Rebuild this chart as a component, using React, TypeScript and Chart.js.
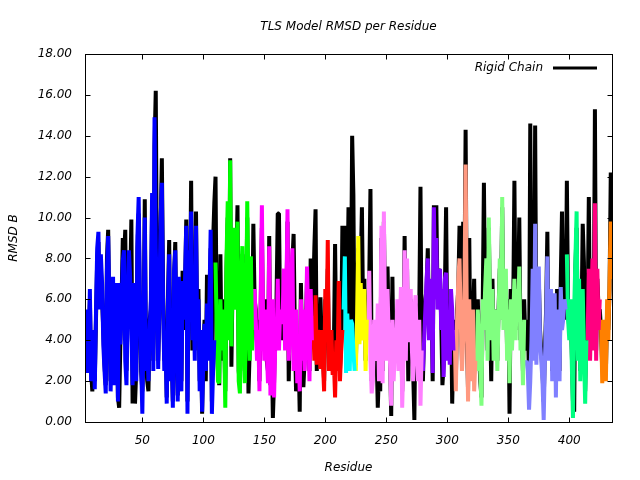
import React, { useEffect, useRef } from "react";
import { Chart, registerables } from "chart.js";

Chart.register(...registerables);

const FIRST_RESIDUE = 3;

// TLS group model RMSD (coloured by TLS group), residues 3..435
const tlsValues: number[] = [
  4.2, 5.5, 2.4, 3.5, 6.5, 2.0, 3.4,
  4.5, 1.6, 5.3, 8.5, 9.3, 5.5, 8.2, 6.8, 3.8, 2.5,
  1.4, 7.5, 9.1, 5.5, 1.5, 4.0, 7.1, 1.8, 4.5, 6.8,
  1.0, 6.8, 3.8, 5.5, 7.9, 8.4, 3.0, 1.8, 5.9, 8.4,
  7.1, 4.5, 1.8, 6.8, 4.0, 2.0, 9.1, 11.0, 6.0, 3.0,
  0.4, 4.5, 10.0, 2.5, 4.0, 2.0, 4.5, 6.0, 11.2, 2.5,
  14.9, 8.5, 6.0, 2.6, 6.1, 10.0, 11.7, 5.9, 2.5, 4.0,
  0.9, 5.8, 8.2, 2.0, 4.0, 0.7, 7.4, 8.4, 4.0, 1.0,
  7.1, 3.0, 1.5, 6.9, 5.0, 7.0, 9.6, 0.4, 8.4, 5.0,
  10.3, 4.0, 6.2, 3.0, 9.6, 4.5, 6.0, 1.5, 4.5, 0.5,
  3.0, 4.8, 2.5, 5.8, 3.0, 6.0, 9.4, 0.4, 2.5, 4.0,
  7.8, 4.5, 2.0, 1.9, 6.0, 3.5, 5.5, 4.3, 0.7, 8.0,
  10.8, 4.0, 12.8, 3.7, 7.6, 9.5, 5.5, 7.0, 9.8, 2.0,
  1.4, 7.0, 8.6, 4.0, 1.9, 5.0, 10.8, 6.0, 3.0, 8.1,
  3.5, 4.5, 6.5, 5.0, 3.0, 4.5, 1.5, 6.0, 10.6, 5.0,
  3.0, 5.5, 3.5, 1.9, 8.6, 1.3, 4.5, 6.0, 1.2, 4.0,
  3.5, 7.0, 3.5, 5.5, 4.8, 5.2, 7.5, 3.5, 6.0, 10.4,
  3.0, 4.5, 6.5, 8.5, 2.5, 4.0, 5.5, 1.9, 4.0, 1.5,
  6.0, 3.0, 5.5, 2.5, 4.0, 7.6, 5.0, 2.0, 6.5, 4.0,
  5.2, 3.0, 6.2, 2.8, 4.5, 4.0, 2.6, 4.5, 3.0, 1.5,
  6.5, 4.0, 8.9, 2.5, 3.5, 4.5, 2.3, 3.0, 1.2, 4.0,
  2.5, 6.9, 2.0, 3.5, 4.5, 5.5, 8.1, 2.4, 5.3, 3.5,
  2.5, 5.0, 4.8, 3.5, 2.5, 2.5, 5.0, 9.1, 3.8, 6.8,
  4.5, 4.0, 6.5, 2.5, 5.0, 4.0, 7.4, 3.0, 1.4, 2.0,
  5.0, 3.5, 3.0, 5.8, 2.0, 4.0, 9.6, 1.9, 10.3, 4.5,
  3.0, 6.5, 4.0, 3.0, 0.8, 5.0, 2.0, 3.5, 3.5, 6.0,
  2.5, 4.5, 6.6, 0.7, 3.0, 8.4, 3.0, 8.0, 4.0, 4.0,
  6.5, 3.5, 2.0, 5.5, 6.2, 3.5, 2.0, 5.0, 0.8, 3.5,
  2.5, 4.0, 5.5, 7.0, 8.0, 4.0, 5.5, 7.0, 2.4, 10.5,
  6.0, 9.0, 5.5, 7.0, 7.5, 4.5, 6.5, 2.2, 7.0, 7.3,
  3.0, 5.0, 2.8, 6.5, 5.5, 3.5, 4.5, 1.5, 5.0, 7.0,
  8.0, 5.0, 2.5, 4.0, 6.0, 12.6, 5.0, 1.0, 6.0, 2.0,
  3.5, 5.5, 1.5, 3.0, 2.5, 5.5, 4.0, 2.5, 0.8, 6.0,
  4.5, 6.5, 8.0, 3.0, 10.0, 6.0, 4.0, 6.5, 3.0, 4.5,
  5.5, 2.5, 5.0, 8.0, 5.0, 11.0, 4.5, 6.0, 7.5, 3.0,
  5.5, 1.9, 6.0, 3.5, 5.0, 7.0, 4.0, 6.5, 5.0, 7.6,
  3.5, 4.5, 1.8, 5.0, 2.8, 3.0, 2.5, 0.6, 2.0, 4.0,
  7.5, 3.0, 9.7, 2.8, 5.0, 7.6, 4.0, 3.0, 2.0, 0.1,
  3.0, 5.0, 8.1, 3.0, 4.5, 6.5, 2.0, 4.0, 6.3, 1.2,
  5.5, 3.5, 2.0, 6.6, 4.5, 5.0, 6.0, 5.5, 8.2, 5.0,
  4.0, 6.0, 3.0, 0.2, 5.5, 8.0, 10.3, 3.0, 7.0, 2.0,
  4.5, 6.5, 3.5, 0.9, 4.0, 4.0, 7.5, 3.0, 5.5, 8.0,
  3.5, 10.7, 3.0, 7.5, 4.5, 6.0, 5.0, 1.9, 3.5, 5.0,
  2.0, 6.0, 4.0, 7.0, 9.8, 7.0,
];

// Rigid chain model RMSD, residues 3..435
const rigidChain: number[] = [
  4.0, 5.0, 3.0, 3.8, 6.0, 2.5, 1.5,
  4.0, 2.0, 5.0, 8.0, 8.8, 6.0, 7.5, 6.0, 4.5, 2.8,
  1.8, 8.0, 9.4, 5.0, 2.0, 4.5, 6.5, 2.2, 5.0, 6.0,
  1.2, 0.7, 4.0, 6.0, 9.0, 8.0, 9.4, 2.5, 5.5, 8.0,
  6.5, 9.9, 0.9, 6.0, 0.9, 2.5, 8.5, 10.2, 5.5, 2.5,
  1.5, 4.0, 10.9, 3.0, 2.0, 1.5, 5.0, 5.5, 10.5, 3.0,
  13.5, 16.2, 6.5, 3.0, 5.5, 9.5, 12.9, 6.5, 3.0, 4.5,
  1.2, 6.0, 8.9, 2.5, 3.5, 1.0, 7.0, 8.8, 3.5, 1.3,
  6.5, 3.5, 2.0, 7.4, 4.5, 6.5, 9.9, 1.0, 8.0, 5.5,
  11.8, 3.5, 6.5, 3.5, 10.3, 4.0, 6.5, 2.0, 4.0, 0.4,
  3.5, 5.0, 2.0, 7.2, 3.5, 5.5, 8.5, 1.0, 8.8, 10.7,
  12.0, 4.0, 2.5, 1.8, 8.2, 3.0, 6.0, 5.0, 1.5, 7.5,
  10.0, 4.5, 12.9, 2.7, 7.0, 9.0, 6.0, 7.5, 10.6, 2.5,
  1.8, 6.5, 8.2, 4.5, 2.5, 5.5, 10.0, 1.4, 3.5, 7.5,
  4.0, 9.7, 6.0, 5.5, 3.5, 5.0, 2.0, 5.5, 9.5, 4.5,
  3.5, 6.0, 3.0, 2.5, 9.1, 1.8, 4.0, 0.2, 2.0, 5.0,
  6.0, 10.2, 10.2, 5.0, 4.0, 6.0, 4.0, 4.5, 5.5, 9.8,
  2.0, 5.0, 6.0, 7.8, 9.2, 4.5, 1.5, 2.5, 3.5, 0.5,
  6.8, 3.5, 1.7, 3.0, 4.5, 7.0, 5.5, 2.5, 8.0, 4.5,
  6.0, 8.5, 10.4, 2.5, 5.0, 3.5, 6.1, 4.0, 3.5, 2.0,
  6.0, 4.5, 7.5, 3.0, 4.0, 4.0, 2.8, 3.5, 8.7, 3.5,
  3.0, 6.0, 2.5, 4.0, 9.6, 6.0, 9.6, 3.0, 6.0, 10.5,
  3.0, 6.0, 14.0, 11.1, 3.0, 2.8, 6.0, 8.5, 4.5, 7.5,
  10.5, 5.0, 7.0, 3.0, 6.0, 5.0, 7.0, 11.4, 2.0, 3.0,
  4.5, 4.0, 3.5, 0.7, 2.5, 1.5, 9.0, 2.5, 9.8, 5.0,
  3.5, 7.6, 4.5, 3.5, 0.3, 7.1, 2.5, 4.0, 3.0, 5.5,
  3.0, 5.0, 6.0, 1.5, 3.5, 9.1, 3.5, 7.5, 2.0, 4.5,
  6.0, 4.0, 2.5, 0.1, 5.8, 4.0, 2.5, 5.5, 11.5, 3.0,
  2.0, 4.5, 6.0, 6.5, 8.5, 4.5, 6.0, 6.5, 2.0, 10.6,
  6.5, 10.6, 6.0, 7.5, 7.0, 5.0, 1.8, 2.8, 6.5, 10.5,
  3.5, 5.5, 3.5, 6.0, 0.9, 4.0, 5.0, 2.0, 5.5, 6.5,
  9.6, 5.5, 3.0, 9.8, 6.5, 14.3, 4.5, 1.5, 9.0, 2.5,
  4.0, 5.0, 7.0, 3.5, 3.0, 6.0, 3.5, 2.0, 1.2, 5.5,
  11.7, 6.0, 7.5, 3.5, 9.5, 5.5, 2.0, 7.0, 3.5, 5.0,
  5.5, 3.0, 5.5, 7.5, 6.0, 10.5, 5.0, 6.5, 7.0, 3.5,
  6.0, 0.4, 6.5, 4.0, 5.5, 11.8, 4.5, 7.0, 6.0, 10.0,
  4.0, 5.0, 2.5, 6.0, 4.0, 3.5, 5.0, 2.0, 14.6, 4.5,
  8.0, 3.5, 14.5, 3.5, 5.5, 7.0, 4.5, 3.5, 2.5, 1.0,
  3.5, 5.5, 9.3, 3.5, 5.0, 6.0, 2.5, 4.5, 6.0, 2.0,
  6.5, 4.0, 2.5, 7.0, 10.3, 5.5, 6.5, 5.0, 11.8, 5.5,
  4.5, 5.5, 3.5, 1.0, 0.5, 7.5, 9.5, 3.5, 6.5, 2.5,
  5.0, 9.7, 7.8, 1.5, 4.5, 5.0, 11.0, 3.5, 6.0, 7.5,
  4.0, 15.3, 3.5, 7.0, 5.5, 5.5, 4.5, 2.5, 4.0, 4.5,
  2.5, 5.5, 4.5, 6.5, 12.2, 8.0,
];

// First residue of each TLS group and its colour
const groupStarts: number[] = [3, 110, 141, 190, 215, 225, 235, 280, 306, 324, 364, 398, 415, 426];
const groupColors: string[] = [
  "#0000ff", "#00ff00", "#ff00ff", "#ff0000", "#00ffff", "#ffff00", "#ff80ff",
  "#8000ff", "#ff9980", "#80ff80", "#8080ff", "#00ff80", "#ff0080", "#ff8000",
];

const xTicks: number[] = [50, 100, 150, 200, 250, 300, 350, 400];
const yTicks: number[] = [0, 2, 4, 6, 8, 10, 12, 14, 16, 18];

const TITLE = "TLS Model RMSD per Residue";
const LEGEND_LABEL = "Rigid Chain";
const X_TITLE = "Residue";
const Y_TITLE = "RMSD B";

const FONT_FAMILY = '"DejaVu Sans", "Liberation Sans", sans-serif';
const LAST_RESIDUE = FIRST_RESIDUE + rigidChain.length - 1;

const framePlugin = {
  id: "gnuplotFrame",
  afterDatasetsDraw(chart: any) {
    const { ctx, chartArea: a, scales } = chart;
    const L = Math.round(a.left) + 0.5;
    const R = Math.round(a.right) + 0.5;
    const T = Math.round(a.top) + 0.5;
    const B = Math.round(a.bottom) + 0.5;
    ctx.save();
    ctx.strokeStyle = "#000";
    ctx.lineWidth = 1;
    ctx.beginPath();
    const tl = 5;
    for (const v of xTicks) {
      const x = Math.round(scales.x.getPixelForValue(v)) + 0.5;
      ctx.moveTo(x, B);
      ctx.lineTo(x, B - tl);
      ctx.moveTo(x, T);
      ctx.lineTo(x, T + tl);
    }
    for (const v of yTicks) {
      const y = Math.round(scales.y.getPixelForValue(v)) + 0.5;
      ctx.moveTo(L, y);
      ctx.lineTo(L + tl, y);
      ctx.moveTo(R, y);
      ctx.lineTo(R - tl, y);
    }
    ctx.stroke();
    ctx.strokeRect(L, T, R - L, B - T);

    // title
    ctx.fillStyle = "#000";
    ctx.font = `italic 12px ${FONT_FAMILY}`;
    ctx.textAlign = "center";
    ctx.textBaseline = "middle";
    ctx.fillText(TITLE, (a.left + a.right) / 2, 27);

    // key (gnuplot style: label then line sample)
    ctx.textAlign = "right";
    ctx.fillText(LEGEND_LABEL, 543, 68);
    ctx.lineWidth = 3;
    ctx.beginPath();
    ctx.moveTo(553, 68);
    ctx.lineTo(597, 68);
    ctx.stroke();
    ctx.restore();
  },
};

export default function App() {
  const canvasRef = useRef<HTMLCanvasElement | null>(null);

  useEffect(() => {
    const canvas = canvasRef.current;
    if (!canvas) return;

    const groupDatasets = groupStarts.map((start, gi) => {
      const end = gi + 1 < groupStarts.length ? groupStarts[gi + 1] - 1 : LAST_RESIDUE;
      const pts: { x: number; y: number }[] = [];
      for (let r = start; r <= end; r++) {
        pts.push({ x: r, y: tlsValues[r - FIRST_RESIDUE] });
      }
      return {
        label: `TLS group ${gi + 1}`,
        data: pts,
        borderColor: groupColors[gi],
        backgroundColor: groupColors[gi],
        borderWidth: 4,
        borderJoinStyle: "bevel" as const,
        pointRadius: 0,
        tension: 0,
        fill: false,
      };
    });

    const rigidDataset = {
      label: LEGEND_LABEL,
      data: rigidChain.map((v, i) => ({ x: FIRST_RESIDUE + i, y: v })),
      borderColor: "#000000",
      backgroundColor: "#000000",
      borderWidth: 4,
      borderJoinStyle: "bevel" as const,
      pointRadius: 0,
      tension: 0,
      fill: false,
    };

    const font = { family: FONT_FAMILY, size: 12, style: "italic" as const };

    const chart = new Chart(canvas, {
      type: "line",
      data: { datasets: [...groupDatasets, rigidDataset] },
      options: {
        animation: false,
        responsive: false,
        devicePixelRatio: 1,
        layout: { padding: { top: 54, right: 28, left: 0, bottom: 0 } },
        plugins: {
          legend: { display: false },
          title: { display: false },
          tooltip: { enabled: false },
        },
        scales: {
          x: {
            type: "linear",
            min: FIRST_RESIDUE,
            max: LAST_RESIDUE,
            afterBuildTicks: (s: any) => {
              s.ticks = xTicks.map((v) => ({ value: v }));
            },
            afterFit: (s: any) => {
              s.height = 58;
            },
            grid: { display: false, drawTicks: false },
            border: { display: false },
            ticks: {
              padding: 12,
              color: "#000",
              font,
              maxRotation: 0,
              autoSkip: false,
              callback: (v: any) => String(v),
            },
            title: {
              display: true,
              text: X_TITLE,
              color: "#000",
              font,
              padding: { top: 0, bottom: 5 },
            },
          },
          y: {
            type: "linear",
            min: 0,
            max: 18,
            afterBuildTicks: (s: any) => {
              s.ticks = yTicks.map((v) => ({ value: v }));
            },
            afterFit: (s: any) => {
              s.width = 85;
            },
            grid: { display: false, drawTicks: false },
            border: { display: false },
            ticks: {
              padding: 13,
              color: "#000",
              font,
              callback: (v: any) => Number(v).toFixed(2),
            },
            title: {
              display: true,
              text: Y_TITLE,
              color: "#000",
              font,
              padding: { top: 7, bottom: 0 },
            },
          },
        },
      },
      plugins: [framePlugin],
    });

    return () => {
      chart.destroy();
    };
  }, []);

  return (
    <div style={{ position: "fixed", left: 0, top: 0, width: 640, height: 480, background: "#fff" }}>
      <canvas ref={canvasRef} width={640} height={480} style={{ display: "block" }} />
    </div>
  );
}
